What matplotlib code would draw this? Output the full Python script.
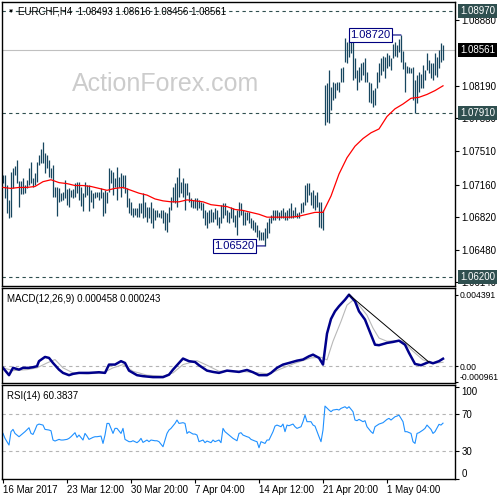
import numpy as np
import matplotlib
matplotlib.use('Agg')
import matplotlib.pyplot as plt
from matplotlib.transforms import blended_transform_factory

plt.rcParams['font.family'] = ['Liberation Sans', 'DejaVu Sans']

# H4 bars, high / low
highs = [
    1.0726, 1.0726, 1.0716, 1.0700, 1.0729, 1.0733, 1.0735, 1.0742, 1.0720, 1.0720,
    1.0723, 1.0716, 1.0721, 1.0733, 1.0740, 1.0723, 1.0728, 1.0740, 1.0747, 1.0753,
    1.0760, 1.0749, 1.0747, 1.0742, 1.0733, 1.0736, 1.0713, 1.0713, 1.0712, 1.0707,
    1.0708, 1.0721, 1.0711, 1.0712, 1.0710, 1.0711, 1.0718, 1.0719, 1.0719, 1.0713,
    1.0707, 1.0719, 1.0716, 1.0716, 1.0710, 1.0707, 1.0708, 1.0708, 1.0708, 1.0712,
    1.0708, 1.0710, 1.0708, 1.0733, 1.0731, 1.0729, 1.0723, 1.0734, 1.0724, 1.0728,
    1.0726, 1.0726, 1.0712, 1.0702, 1.0698, 1.0692, 1.0692, 1.0692, 1.0697, 1.0697,
    1.0707, 1.0698, 1.0693, 1.0693, 1.0698, 1.0692, 1.0689, 1.0689, 1.0686, 1.0689,
    1.0689, 1.0687, 1.0686, 1.0693, 1.0703, 1.0713, 1.0718, 1.0724, 1.0733, 1.0719,
    1.0723, 1.0718, 1.0718, 1.0708, 1.0702, 1.0700, 1.0702, 1.0702, 1.0700, 1.0698,
    1.0697, 1.0689, 1.0687, 1.0689, 1.0690, 1.0687, 1.0692, 1.0689, 1.0682, 1.0695,
    1.0697, 1.0697, 1.0689, 1.0687, 1.0693, 1.0692, 1.0684, 1.0689, 1.0698, 1.0697,
    1.0689, 1.0687, 1.0687, 1.0687, 1.0681, 1.0679, 1.0677, 1.0674, 1.0669, 1.0667,
    1.0667, 1.0671, 1.0677, 1.0681, 1.0684, 1.0689, 1.0689, 1.0689, 1.0687, 1.0689,
    1.0692, 1.0687, 1.0689, 1.0692, 1.0697, 1.0689, 1.0693, 1.0686, 1.0687, 1.0697,
    1.0698, 1.0716, 1.0718, 1.0718, 1.0708, 1.0710, 1.0705, 1.0708, 1.0698, 1.0698,
    1.0689, 1.0820, 1.0822, 1.0836, 1.0818, 1.0823, 1.0822, 1.0823, 1.0823, 1.0838,
    1.0839, 1.0869, 1.0865, 1.0867, 1.0869, 1.0872, 1.0848, 1.0836, 1.0839, 1.0843,
    1.0844, 1.0848, 1.0833, 1.0823, 1.0822, 1.0815, 1.0817, 1.0833, 1.0843, 1.0848,
    1.0850, 1.0849, 1.0853, 1.0851, 1.0848, 1.0863, 1.0865, 1.0862, 1.0868, 1.0872,
    1.0855, 1.0844, 1.0840, 1.0839, 1.0838, 1.0839, 1.0825, 1.0830, 1.0833, 1.0831,
    1.0841, 1.0836, 1.0853, 1.0846, 1.0843, 1.0843, 1.0853, 1.0849, 1.0856, 1.0864,
    1.0862,
]
lows = [
    1.0718, 1.0702, 1.0686, 1.0681, 1.0682, 1.0712, 1.0726, 1.0718, 1.0693, 1.0706,
    1.0706, 1.0707, 1.0712, 1.0716, 1.0718, 1.0713, 1.0716, 1.0719, 1.0736, 1.0739,
    1.0739, 1.0728, 1.0733, 1.0724, 1.0723, 1.0703, 1.0703, 1.0683, 1.0698, 1.0699,
    1.0700, 1.0702, 1.0695, 1.0693, 1.0703, 1.0702, 1.0703, 1.0707, 1.0700, 1.0694,
    1.0688, 1.0703, 1.0705, 1.0688, 1.0698, 1.0692, 1.0702, 1.0703, 1.0700, 1.0702,
    1.0683, 1.0686, 1.0697, 1.0708, 1.0718, 1.0705, 1.0713, 1.0700, 1.0713, 1.0703,
    1.0712, 1.0707, 1.0693, 1.0686, 1.0684, 1.0682, 1.0684, 1.0682, 1.0682, 1.0686,
    1.0681, 1.0682, 1.0677, 1.0681, 1.0676, 1.0671, 1.0679, 1.0682, 1.0682, 1.0681,
    1.0676, 1.0669, 1.0667, 1.0677, 1.0689, 1.0698, 1.0697, 1.0693, 1.0703, 1.0707,
    1.0703, 1.0689, 1.0705, 1.0698, 1.0693, 1.0692, 1.0692, 1.0689, 1.0692, 1.0689,
    1.0681, 1.0674, 1.0671, 1.0676, 1.0677, 1.0677, 1.0680, 1.0674, 1.0671, 1.0676,
    1.0681, 1.0684, 1.0677, 1.0676, 1.0681, 1.0677, 1.0672, 1.0663, 1.0682, 1.0684,
    1.0674, 1.0674, 1.0679, 1.0676, 1.0671, 1.0669, 1.0667, 1.0661, 1.0658, 1.0658,
    1.0658, 1.0652, 1.0660, 1.0665, 1.0676, 1.0679, 1.0679, 1.0681, 1.0679, 1.0681,
    1.0681, 1.0679, 1.0679, 1.0681, 1.0681, 1.0681, 1.0682, 1.0681, 1.0681, 1.0686,
    1.0687, 1.0695, 1.0698, 1.0705, 1.0695, 1.0692, 1.0689, 1.0693, 1.0672, 1.0671,
    1.0669, 1.0778, 1.0781, 1.0780, 1.0794, 1.0804, 1.0806, 1.0815, 1.0813, 1.0823,
    1.0823, 1.0844, 1.0843, 1.0849, 1.0853, 1.0825, 1.0827, 1.0815, 1.0823, 1.0825,
    1.0830, 1.0823, 1.0823, 1.0802, 1.0801, 1.0797, 1.0799, 1.0817, 1.0823, 1.0830,
    1.0834, 1.0827, 1.0838, 1.0840, 1.0835, 1.0848, 1.0850, 1.0849, 1.0854, 1.0844,
    1.0837, 1.0813, 1.0832, 1.0832, 1.0832, 1.0804, 1.0791, 1.0801, 1.0813, 1.0817,
    1.0817, 1.0825, 1.0835, 1.0832, 1.0827, 1.0825, 1.0830, 1.0828, 1.0838, 1.0844,
    1.0846,
]

# moving average (red), read every 4 bars
ma_idx = list(range(0, 221, 4))
ma_vals = [
    1.0713, 1.0712, 1.0713, 1.0713, 1.0714, 1.0719, 1.0721, 1.0718, 1.0717, 1.0715,
    1.0715, 1.0714, 1.0712, 1.0710, 1.0712, 1.0713, 1.0710, 1.0707, 1.0705, 1.0701,
    1.0699, 1.0698, 1.0698, 1.0700, 1.0699, 1.0698, 1.0695, 1.0694, 1.0693, 1.0690,
    1.0689, 1.0687, 1.0685, 1.0682, 1.0682, 1.0682, 1.0682, 1.0683, 1.0685, 1.0687,
    1.0687, 1.0704, 1.0727, 1.0744, 1.0756, 1.0764, 1.0770, 1.0774, 1.0787, 1.0795,
    1.0800, 1.0806, 1.0807, 1.0810, 1.0814, 1.0819,
]

macd_idx = [0, 3, 5, 8, 10, 13, 15, 17, 18, 21, 23, 25, 28, 30, 33, 35, 38, 43, 48, 51,
            53, 56, 59, 61, 63, 67, 70, 75, 80, 83, 85, 88, 90, 93, 96, 98, 102, 105, 108, 112,
            115, 118, 122, 125, 128, 132, 134, 137, 140, 143, 147, 150, 153, 155, 158, 160, 162, 164, 166, 168,
            171, 173, 176, 178, 181, 183, 186, 188, 192, 195, 198, 201, 203, 206, 209, 213, 215, 218, 220]
macd_vals = [-0.00010, -0.00055, -0.00010, -0.00021, -0.00010, -0.00010, -0.00006, 0.0, 0.00031, 0.00057,
             0.00051, 0.00020, -0.00021, -0.00041, -0.00055, -0.00047, -0.00041, -0.00041, -0.00037, -0.00041,
             0.00010, 0.00010, 0.00031, 0.00020, -0.00027, -0.00055, -0.00061, -0.00067, -0.00067, -0.00052,
             -0.00021, 0.00020, 0.00047, 0.00031, 0.00026, 0.00006, -0.00027, -0.00035, -0.00041, -0.00027,
             -0.00031, -0.00035, -0.00023, -0.00037, -0.00055, -0.00055, -0.00041, -0.00010, 0.00010, 0.00020,
             0.00034, 0.00041, 0.00061, 0.00071, 0.00051, 0.00010, 0.00200, 0.00290, 0.00337, 0.00368,
             0.00408, 0.00439, 0.00399, 0.00337, 0.00286, 0.00224, 0.00132, 0.00129, 0.00143, 0.00149,
             0.00157, 0.00132, 0.00082, 0.00014, 0.00006, 0.00026, 0.00018, 0.00031, 0.00046]
signal_idx = [0, 5, 12, 17, 22, 26, 30, 35, 42, 50, 55, 60, 65, 72, 80, 85, 90, 97, 102, 108,
              118, 128, 133, 138, 145, 154, 159, 162, 165, 169, 172, 175, 178, 182, 185, 188, 192, 197, 200, 205,
              210, 215, 220]
signal_vals = [-0.00010, -0.00027, -0.00021, -0.00010, 0.00020, 0.00041, -0.00010, -0.00041, -0.00047, -0.00041,
               -0.00010, 0.00010, -0.00031, -0.00055, -0.00061, -0.00041, 0.00010, 0.00034, 0.00006, -0.00031,
               -0.00031, -0.00041, -0.00047, -0.00021, 0.00014, 0.00051, 0.00055, 0.00039, 0.00153, 0.00275,
               0.00375, 0.00405, 0.00375, 0.00313, 0.00234, 0.00173, 0.00153, 0.00157, 0.00153, 0.00092,
               0.00039, 0.00018, 0.00024]
trend_idx = [173, 213]
trend_vals = [0.00439, 0.00025]

rsi_idx = [0, 1, 3, 4, 5, 6, 8, 9, 10, 11, 13, 14, 15, 16, 17, 18, 20, 21, 23, 24,
           25, 26, 28, 29, 30, 32, 33, 34, 36, 37, 38, 40, 41, 42, 43, 45, 46, 47, 49, 50,
           51, 52, 53, 55, 56, 57, 59, 60, 61, 63, 64, 65, 67, 68, 69, 70, 72, 73, 74, 76,
           77, 78, 80, 81, 82, 83, 84, 86, 87, 88, 90, 91, 92, 93, 95, 96, 97, 98, 100, 101,
           102, 104, 105, 106, 108, 109, 110, 111, 113, 114, 115, 117, 118, 119, 120, 122, 123, 124, 126, 127,
           128, 129, 131, 132, 133, 135, 136, 137, 139, 140, 141, 142, 143, 145, 146, 147, 149, 150, 151, 152,
           154, 155, 156, 158, 159, 160, 161, 163, 164, 165, 167, 168, 169, 171, 172, 173, 175, 176, 177, 178,
           180, 181, 182, 184, 185, 186, 188, 189, 190, 192, 193, 194, 196, 197, 198, 200, 201, 202, 204, 205,
           206, 207, 208, 210, 211, 212, 214, 215, 216, 218, 219, 220]
rsi_vals = [49.2, 43.8, 36.5, 51.1, 53.6, 49.2, 45.6, 47.4, 49.2, 51.1, 55.4, 49.2, 48.1, 52.9, 58.3, 59.4, 58.3, 53.6, 52.9, 52.1,
            42.0, 40.9, 42.7, 42.0, 42.0, 42.7, 43.8, 45.6, 50.0, 44.9, 47.4, 42.0, 49.2, 46.3, 42.7, 44.9, 45.6, 45.6, 46.3, 38.3,
            47.4, 60.1, 60.1, 49.2, 54.7, 54.7, 49.2, 54.7, 42.7, 40.2, 40.2, 41.2, 39.1, 40.9, 43.8, 39.4, 42.0, 40.2, 42.0, 41.2,
            41.2, 40.2, 34.7, 42.0, 49.2, 52.9, 54.7, 60.1, 63.8, 60.1, 60.9, 60.1, 49.2, 51.1, 48.5, 48.5, 47.4, 40.2, 42.0, 39.1,
            40.9, 39.1, 42.0, 40.2, 42.0, 39.1, 54.7, 51.1, 47.4, 45.6, 43.8, 41.2, 49.2, 50.0, 47.4, 45.6, 44.9, 42.7, 40.9, 40.2,
            33.6, 40.2, 38.3, 42.0, 42.0, 51.1, 57.2, 58.3, 56.5, 59.4, 51.1, 58.3, 57.6, 59.4, 56.5, 54.7, 56.5, 62.0, 69.2, 62.0,
            62.0, 58.3, 57.2, 45.6, 40.2, 52.9, 79.0, 74.7, 72.9, 74.7, 75.4, 74.7, 76.5, 78.3, 76.5, 78.3, 72.9, 63.8, 63.1, 64.5,
            62.0, 63.1, 56.5, 51.1, 49.2, 56.5, 59.4, 60.1, 60.9, 64.5, 65.6, 63.8, 67.4, 68.1, 69.2, 62.0, 51.1, 51.1, 49.2, 40.2,
            38.3, 49.2, 50.0, 52.9, 54.7, 58.3, 53.6, 49.2, 51.1, 59.1, 58.3, 60.4]

date_pos = [0, 32, 64, 96, 128, 160, 192]
date_labels = ['16 Mar 2017', '23 Mar 12:00', '30 Mar 20:00', '7 Apr 04:00',
               '14 Apr 12:00', '21 Apr 20:00', '1 May 04:00']
price_ticks = [1.06140, 1.06480, 1.06820, 1.07160, 1.07510, 1.07850, 1.08190, 1.08880]
levels = [1.08970, 1.07910, 1.06200]
last_price = 1.08561
title = 'EURCHF,H4  1.08493 1.08616 1.08456 1.08561'

bar_col = '#17465f'
lvl_col = '#2f4f4f'

fig = plt.figure(figsize=(5, 5), dpi=100, facecolor='white')
ax = fig.add_axes([0.004, 0.428, 0.906, 0.568])
ax2 = fig.add_axes([0.004, 0.234, 0.906, 0.19], sharex=ax)
ax3 = fig.add_axes([0.004, 0.042, 0.906, 0.188], sharex=ax)

x = np.arange(len(highs))

# price panel
ax.text(0.36, 0.71, 'ActionForex.com', transform=ax.transAxes, fontsize=18,
        color='#cccccc', ha='center', va='center', zorder=0)
ax.vlines(x, lows, highs, color=bar_col, lw=0.9, zorder=2)
ax.plot(ma_idx, ma_vals, color='red', lw=0.9, zorder=3)
for lv in levels:
    ax.axhline(lv, color=lvl_col, lw=0.8, ls=(0, (3, 3)), zorder=1)
ax.axhline(last_price, color='#c0c0c0', lw=0.8, zorder=1)

ax.set_xlim(-0.5, 226)
ax.set_ylim(1.06102, 1.09064)
ax.yaxis.tick_right()
ax.set_yticks(price_ticks)
ax.set_yticklabels([f'{t:.5f}' for t in price_ticks])
ax.tick_params(axis='y', length=3, pad=1.5, labelsize=7, width=0.8)
ax.tick_params(axis='x', bottom=False, labelbottom=False)

trans = blended_transform_factory(ax.transAxes, ax.transData)
for lv in levels:
    ax.text(1.012, lv, f'{lv:.5f}', transform=trans, ha='left', va='center', fontsize=7,
            color='white', clip_on=False, zorder=5,
            bbox=dict(boxstyle='square,pad=0.2', fc=lvl_col, ec='none'))
ax.text(1.012, last_price, f'{last_price:.5f}', transform=trans, ha='left', va='center',
        fontsize=7, color='white', clip_on=False, zorder=5,
        bbox=dict(boxstyle='square,pad=0.2', fc='black', ec='none'))

ax.text(0.035, 0.968, title, transform=ax.transAxes, fontsize=7, ha='left', va='center')
ax.text(0.013, 0.968, '▼', transform=ax.transAxes, fontsize=4.5, ha='left', va='center')

hi_idx = int(np.where(np.array(highs) == max(highs))[0][-1])
lo_idx = int(np.argmin(lows))
for idx, val in [(hi_idx, highs[hi_idx]), (lo_idx, lows[lo_idx])]:
    ax.annotate(f'{val:.5f}', xy=(idx, val), xytext=(idx - 5.2, val), ha='right', va='center',
                fontsize=8, color='#000080', zorder=6,
                bbox=dict(boxstyle='square,pad=0.15', fc='white', ec='#000080', lw=0.8),
                arrowprops=dict(arrowstyle='-', color='#000080', lw=0.8, shrinkA=0, shrinkB=0))

# MACD panel
ax2.axhline(0, color='#b4b4b4', lw=0.8, ls=(0, (3, 3)))
ax2.plot(signal_idx, signal_vals, color='#b8b8b8', lw=0.8)
ax2.plot(macd_idx, macd_vals, color='#00008b', lw=1.8)
ax2.plot(trend_idx, trend_vals, color='black', lw=0.7)
ax2.set_ylim(-0.00103, 0.0048)
ax2.yaxis.tick_right()
ax2.set_yticks([0.004391, 0.0, -0.000961])
ax2.set_yticklabels(['0.004391', '0.00', '-0.000961'])
ax2.tick_params(axis='y', length=2.5, pad=1, labelsize=6.2, width=0.8)
ax2.get_yticklabels()[2].set_va('bottom')
ax2.tick_params(axis='x', bottom=False, labelbottom=False)
ax2.text(0.011, 0.88, 'MACD(12,26,9) 0.000458 0.000243', transform=ax2.transAxes,
         fontsize=7, ha='left', va='center')

# RSI panel
for lv in [70, 30]:
    ax3.axhline(lv, color='#b4b4b4', lw=0.8, ls=(0, (3, 3)))
ax3.plot(rsi_idx, rsi_vals, color='#1e90ff', lw=0.8)
ax3.set_ylim(-0.5, 102)
ax3.yaxis.tick_right()
ax3.set_yticks([100, 70, 30, 0])
ax3.set_yticklabels(['100', '70', '30', '0'])
ax3.tick_params(axis='y', length=3, pad=1.5, labelsize=7, width=0.8)
ax3.get_yticklabels()[0].set_va('top')
ax3.get_yticklabels()[3].set_va('bottom')
ax3.text(0.011, 0.88, 'RSI(14) 60.3837', transform=ax3.transAxes,
         fontsize=7, ha='left', va='center')

ax3.set_xticks(date_pos)
ax3.set_xticklabels(date_labels, ha='left')
ax3.tick_params(axis='x', length=3, pad=1.5, labelsize=7, width=0.8)

for a in (ax, ax2, ax3):
    for s in a.spines.values():
        s.set_linewidth(1.0)
        s.set_color('black')

fig.savefig('out.png', dpi=100, facecolor='white')
